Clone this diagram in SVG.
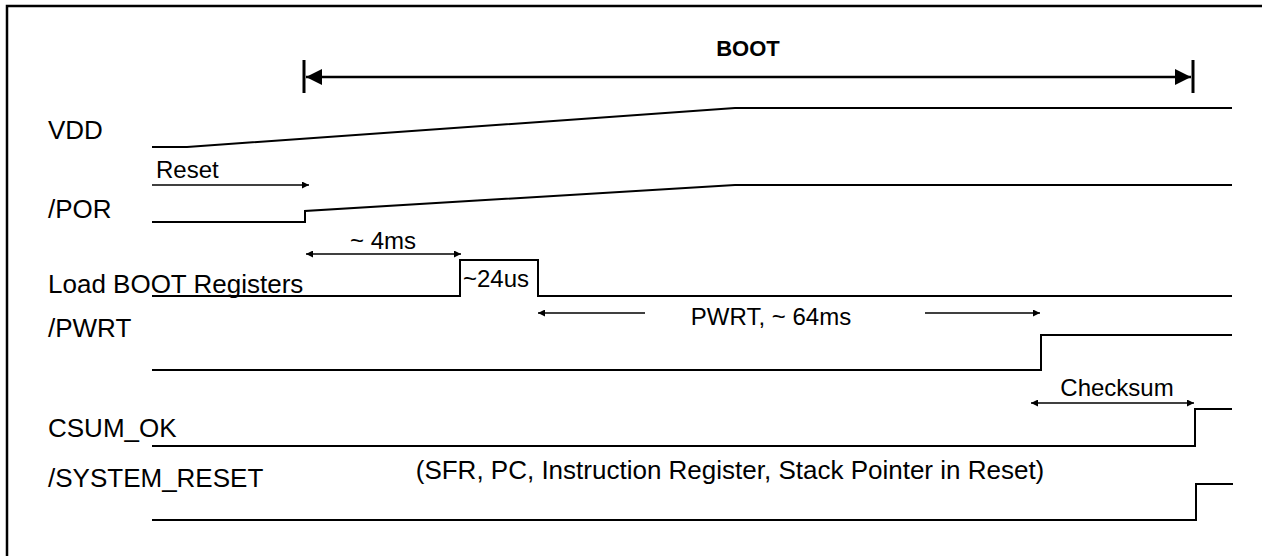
<svg xmlns="http://www.w3.org/2000/svg" width="1271" height="556" viewBox="0 0 1271 556">
<defs>
<style>
text{font-family:"Liberation Sans",Arial,sans-serif;font-size:24px;fill:#000}
.lbl{font-size:26px}
.b{font-weight:bold;font-size:22px}
.sig{fill:none;stroke:#000;stroke-width:2}
.arr{fill:none;stroke:#000;stroke-width:1.3}
.boot{fill:none;stroke:#000;stroke-width:2.5}
</style>
<marker id="ah" viewBox="0 0 10 10" refX="10" refY="5" markerWidth="10" markerHeight="7" markerUnits="userSpaceOnUse" orient="auto-start-reverse"><path d="M0,0L10,5L0,10z" fill="#000"/></marker>
<marker id="bh" viewBox="0 0 16 16" refX="16" refY="8" markerWidth="16" markerHeight="16" markerUnits="userSpaceOnUse" orient="auto-start-reverse"><path d="M0,0L16,8L0,16z" fill="#000"/></marker>
</defs>
<rect width="1271" height="556" fill="#fff"/>
<path d="M7,556V6H1262" fill="none" stroke="#000" stroke-width="2.5"/>
<g id="boot">
<text class="b" x="748" y="56" text-anchor="middle">BOOT</text>
<line class="boot" x1="306" y1="77" x2="1191" y2="77" marker-start="url(#bh)" marker-end="url(#bh)"/>
<line x1="304" y1="60" x2="304" y2="93" stroke="#000" stroke-width="3"/>
<line x1="1193" y1="60" x2="1193" y2="93" stroke="#000" stroke-width="3"/>
</g>
<g id="vdd">
<text class="lbl" x="48" y="139">VDD</text>
<polyline class="sig" points="152,147 187,147 735,108 1232,108"/>
</g>
<g id="por">
<text x="156" y="178">Reset</text>
<text class="lbl" x="48" y="218">/POR</text>
<polyline class="sig" points="152,222 305,222 305,211 735,185 1232,185"/>
</g>
<g id="load">
<text class="lbl" x="48" y="293">Load BOOT Registers</text>
<polyline class="sig" points="152,296 460,296 460,260 538,260 538,296 1232,296"/>
<text x="463" y="287">~24us</text>
<text x="383" y="249" text-anchor="middle">~ 4ms</text>
</g>
<g id="pwrt">
<text class="lbl" x="48" y="337">/PWRT</text>
<polyline class="sig" points="152,370 1041,370 1041,335 1232,335"/>
<text x="771" y="325" text-anchor="middle">PWRT, ~ 64ms</text>
</g>
<g id="csum">
<text class="lbl" x="48" y="437">CSUM_OK</text>
<polyline class="sig" points="152,446 1195,446 1195,409 1232,409"/>
<text x="1117" y="396" text-anchor="middle">Checksum</text>
</g>
<g id="sysreset">
<text class="lbl" x="48" y="487">/SYSTEM_RESET</text>
<polyline class="sig" points="152,520 1196,520 1196,484 1233,484"/>
<text class="lbl" x="730" y="479" text-anchor="middle">(SFR, PC, Instruction Register, Stack Pointer in Reset)</text>
</g>
<g id="connectors">
<line class="arr" x1="152" y1="185" x2="309" y2="185" marker-end="url(#ah)"/>
<line class="arr" x1="306" y1="254" x2="461" y2="254" marker-start="url(#ah)" marker-end="url(#ah)"/>
<line class="arr" x1="645" y1="313" x2="538" y2="313" marker-end="url(#ah)"/>
<line class="arr" x1="925" y1="313" x2="1040" y2="313" marker-end="url(#ah)"/>
<line class="arr" x1="1031" y1="403" x2="1194" y2="403" marker-start="url(#ah)" marker-end="url(#ah)"/>
</g>
</svg>
